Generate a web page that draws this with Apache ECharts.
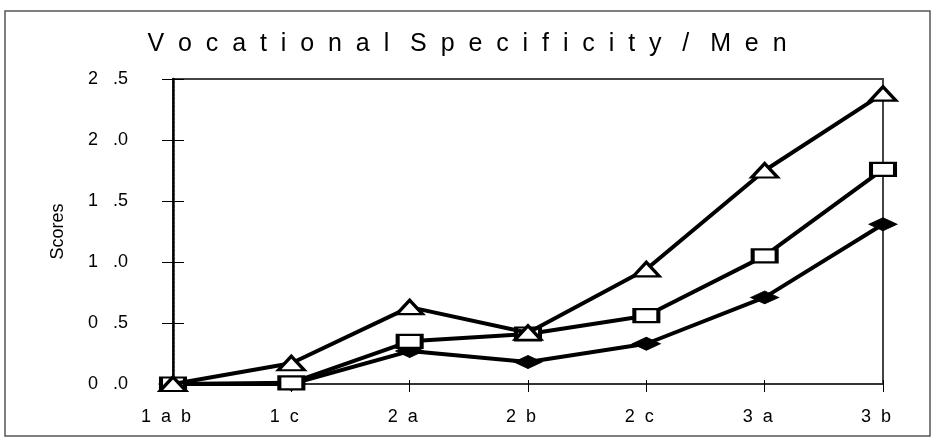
<!DOCTYPE html>
<html>
<head>
<meta charset="utf-8">
<script src="https://cdn.jsdelivr.net/npm/echarts@6/dist/echarts.min.js"></script>
<style>html,body{margin:0;padding:0;background:#fff}#c{width:934px;height:440px}</style>
</head>
<body>
<div id="c"></div>
<script>
const categories = ['1ab', '1c', '2a', '2b', '2c', '3a', '3b'];
const triangleSeries = [0, 0.17, 0.63, 0.42, 0.94, 1.75, 2.38];
const squareSeries = [0, 0.01, 0.35, 0.41, 0.56, 1.05, 1.76];
const diamondSeries = [0, 0.0, 0.27, 0.18, 0.33, 0.71, 1.31];
const titleText = 'Vocational Specificity / Men';
const yName = 'Scores';

const FONT = 'Liberation Sans, Arial, sans-serif';
const spaced = s => s.split(' ').map(w => w.split('').join('  ')).join('   ');
const catLabel = s => s.split('').join('  ');
const yLabel = v => { const t = v.toFixed(1).split('.'); return t[0] + '   .' + t[1]; };

const GRID = {left: 173, right: 51, top: 79, bottom: 56};

const chart = echarts.init(document.getElementById('c'), null, {renderer: 'canvas'});
const markerBase = {type: 'line', smooth: false, lineStyle: {color: '#000', width: 4}, showSymbol: true, animation: false};
chart.setOption({
  animation: false,
  backgroundColor: '#fff',
  title: {
    text: spaced(titleText), left: 'center', top: 27,
    textStyle: {fontFamily: FONT, fontSize: 25, fontWeight: 'normal', color: '#000'}
  },
  graphic: [{type: 'rect', shape: {x: 5, y: 11, width: 925, height: 425}, style: {fill: 'none', stroke: '#555', lineWidth: 1.5}, silent: true, z: -1}],
  grid: [
    Object.assign({show: true, borderColor: '#444', borderWidth: 2, backgroundColor: 'transparent'}, GRID),
    Object.assign({show: false}, GRID)
  ],
  xAxis: [{
    gridIndex: 0, type: 'category', data: categories, boundaryGap: false, position: 'bottom',
    axisLine: {lineStyle: {color: '#333', width: 2, type: [3, 1]}},
    axisTick: {show: true, alignWithLabel: true, inside: false, length: 8, lineStyle: {color: '#000', width: 1}},
    axisLabel: {fontFamily: FONT, fontSize: 18, color: '#000', margin: 24, padding: [0, 14, 0, 0], formatter: catLabel},
    splitLine: {show: false}
  }, {
    gridIndex: 1, type: 'category', data: categories, boundaryGap: false, position: 'bottom',
    axisLine: {show: false}, axisLabel: {show: false}, splitLine: {show: false},
    axisTick: {show: true, inside: true, length: 4, lineStyle: {color: '#000', width: 1}}
  }],
  yAxis: [{
    gridIndex: 0, type: 'value', min: 0, max: 2.5, interval: 0.5, position: 'left',
    name: yName, nameLocation: 'middle', nameGap: 106, nameRotate: 90,
    nameTextStyle: {fontFamily: FONT, fontSize: 18, color: '#000'},
    axisLine: {show: true, lineStyle: {color: '#000', width: 2.5, type: [3, 1]}},
    axisTick: {show: true, inside: false, length: 11, lineStyle: {color: '#000', width: 1}},
    axisLabel: {fontFamily: FONT, fontSize: 18, color: '#000', margin: 45, formatter: yLabel},
    splitLine: {show: false}
  }, {
    gridIndex: 1, type: 'value', min: 0, max: 2.5, interval: 0.5, position: 'left',
    axisLine: {show: false}, axisLabel: {show: false}, splitLine: {show: false},
    axisTick: {show: true, inside: true, length: 11, lineStyle: {color: '#000', width: 1}}
  }],
  series: [
    Object.assign({}, markerBase, {name: 'diamond', data: diamondSeries, symbol: 'diamond', symbolSize: [28, 13],
      itemStyle: {color: '#000', borderColor: '#000', borderWidth: 1}, z: 2}),
    Object.assign({}, markerBase, {name: 'square', data: squareSeries, symbol: 'rect', symbolSize: [24, 13],
      itemStyle: {color: '#fff', borderColor: '#000', borderWidth: 3}, z: 3}),
    Object.assign({}, markerBase, {name: 'triangle', data: triangleSeries, symbol: 'triangle', symbolSize: [26, 14],
      itemStyle: {color: '#fff', borderColor: '#000', borderWidth: 3}, z: 4})
  ]
});
</script>
</body>
</html>
